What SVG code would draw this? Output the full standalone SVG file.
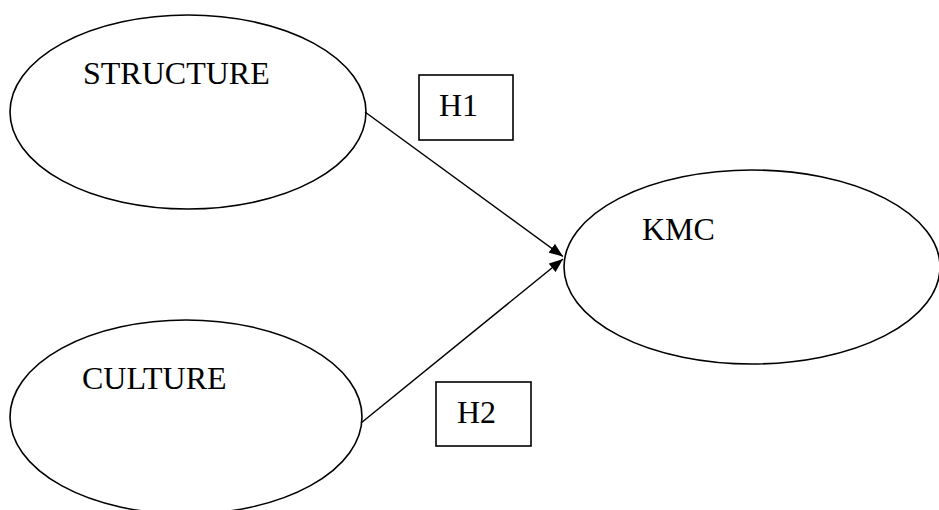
<svg xmlns="http://www.w3.org/2000/svg" width="939" height="510" viewBox="0 0 939 510">
  <style>
    .node { fill: #ffffff; stroke: #000000; stroke-width: 1.6; }
    .lbl { font-family: "Liberation Serif", "Times New Roman", serif; font-size: 32px; fill: #000000; }
    .conn { stroke: #000000; stroke-width: 1.5; fill: none; }
  </style>
  <defs>
    <marker id="arrow" viewBox="0 0 14 11" refX="14" refY="5.5" markerWidth="14" markerHeight="11" markerUnits="userSpaceOnUse" orient="auto">
      <path d="M0,0 L14,5.5 L0,11 z" fill="#000000"/>
    </marker>
  </defs>
  <rect x="0" y="0" width="939" height="510" fill="#ffffff"/>
  <g id="structure">
    <ellipse class="node" cx="188" cy="112" rx="178" ry="97"/>
    <text class="lbl" x="83" y="84">STRUCTURE</text>
  </g>
  <g id="culture">
    <ellipse class="node" cx="186" cy="417" rx="176" ry="97"/>
    <text class="lbl" x="82" y="389">CULTURE</text>
  </g>
  <g id="kmc">
    <ellipse class="node" cx="752" cy="267" rx="188" ry="97"/>
    <text class="lbl" x="642" y="240">KMC</text>
  </g>
  <g id="h1">
    <rect class="node" x="419" y="75" width="94" height="65"/>
    <text class="lbl" x="439" y="116">H1</text>
  </g>
  <g id="h2">
    <rect class="node" x="436" y="382" width="95" height="64"/>
    <text class="lbl" x="457" y="423">H2</text>
  </g>
  <g id="connectors">
    <line class="conn" x1="365" y1="112" x2="563" y2="256.5" marker-end="url(#arrow)"/>
    <line class="conn" x1="361" y1="423" x2="563" y2="259" marker-end="url(#arrow)"/>
  </g>
</svg>
